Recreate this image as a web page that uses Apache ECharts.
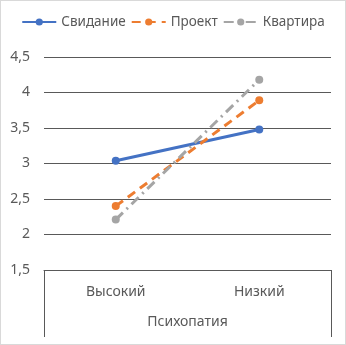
<!DOCTYPE html>
<html>
<head>
<meta charset="utf-8">
<script src="https://cdn.jsdelivr.net/npm/echarts@6/dist/echarts.min.js"></script>
<style>
  html, body { margin: 0; padding: 0; background: #fff; }
  #main { width: 346px; height: 345px; box-sizing: border-box; border: 1px solid #d9d9d9; }
</style>
</head>
<body>
<div id="main"></div>
<script>
// данные
var categories = ['Высокий', 'Низкий'];
var groupName = ['Психопатия'];
var svidanie = [3.04, 3.48];
var proekt = [2.40, 3.89];
var kvartira = [2.21, 4.18];

var font = 'Noto Sans';
var txt = '#595959';

var myChart = echarts.init(document.getElementById('main'));
var option = {
  animation: false,
  textStyle: { fontFamily: font },
  legend: {
    top: 9,
    left: 'center',
    itemWidth: 34,
    itemHeight: 9,
    itemGap: 5,
    textStyle: { fontSize: 13.5, color: txt, fontFamily: font },
    data: ['Свидание', 'Проект', 'Квартира']
  },
  grid: { left: 43, right: 14, top: 56, bottom: 74 },
  xAxis: [
    {
      type: 'category',
      data: categories,
      boundaryGap: true,
      axisLine: { lineStyle: { color: '#595959', width: 1 } },
      axisTick: { show: false },
      axisLabel: { fontSize: 14, color: txt, margin: 15 }
    },
    {
      type: 'category',
      data: groupName,
      position: 'bottom',
      boundaryGap: true,
      axisLine: { show: false },
      axisTick: { show: true, length: 67, lineStyle: { color: '#595959' } },
      axisLabel: { fontSize: 14, color: txt, margin: 45 }
    }
  ],
  yAxis: {
    type: 'value',
    min: 1.5,
    max: 4.5,
    interval: 0.5,
    axisLine: { show: false },
    axisTick: { show: false },
    axisLabel: {
      fontSize: 14, color: txt, margin: 14,
      formatter: function (v) { return String(v).replace('.', ','); }
    },
    splitLine: { lineStyle: { color: '#595959', width: 1 } }
  },
  series: [
    {
      name: 'Свидание', type: 'line', data: svidanie,
      symbol: 'circle', symbolSize: 8,
      itemStyle: { color: '#4472C4' },
      lineStyle: { width: 3, color: '#4472C4' }
    },
    {
      name: 'Проект', type: 'line', data: proekt,
      symbol: 'circle', symbolSize: 8,
      itemStyle: { color: '#ED7D31' },
      lineStyle: { width: 3, color: '#ED7D31', type: [9, 6] }
    },
    {
      name: 'Квартира', type: 'line', data: kvartira,
      symbol: 'circle', symbolSize: 8,
      itemStyle: { color: '#A5A5A5' },
      lineStyle: { width: 3, color: '#A5A5A5', type: [10, 5, 2, 5] }
    }
  ]
};
myChart.setOption(option);
</script>
</body>
</html>
